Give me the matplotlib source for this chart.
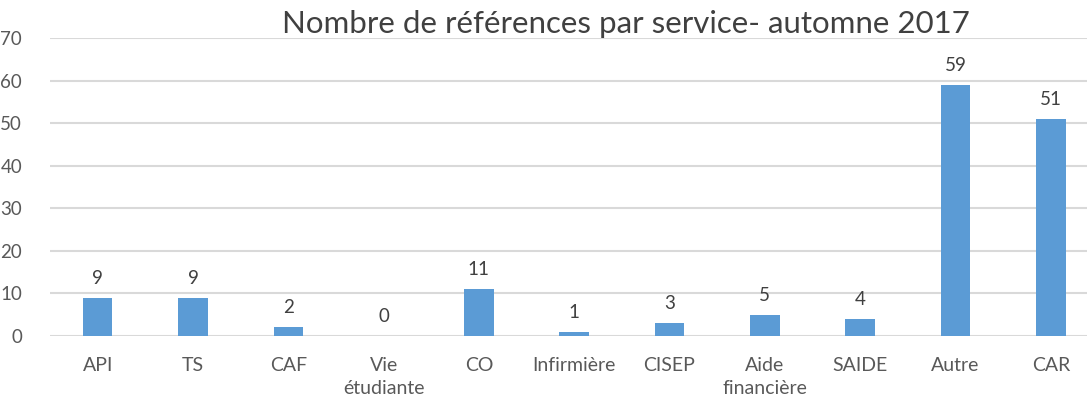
import matplotlib.pyplot as plt

services = ['API', 'TS', 'CAF', 'Vie\nétudiante', 'CO', 'Infirmière', 'CISEP',
            'Aide\nfinancière', 'SAIDE', 'Autre', 'CAR']
counts = [9, 9, 2, 0, 11, 1, 3, 5, 4, 59, 51]
yticks = [0, 10, 20, 30, 40, 50, 60, 70]

plt.rcParams['font.family'] = ['Lato', 'DejaVu Sans']

fig = plt.figure(figsize=(10.87, 4.04), dpi=100)
ax = fig.add_axes([50 / 1087, 1 - 336 / 404, 1 - 50 / 1087, (336 - 38) / 404])

x = range(len(services))
ax.bar(x, counts, width=0.31, color='#5b9bd5', zorder=3)
for xi, v in zip(x, counts):
    ax.text(xi, v + 2.6, str(v), ha='center', va='bottom', fontsize=13.5, color='#404040')

ax.set_xlim(-0.5, 10.38)
ax.set_ylim(0, 70)
ax.set_yticks(yticks)
ax.set_xticks(list(x))
ax.set_xticklabels(services, fontsize=14, color='#595959', linespacing=1.45)
ax.tick_params(axis='y', labelsize=13.5, labelcolor='#595959', length=0, pad=20)
ax.tick_params(axis='x', length=0, pad=15)
ax.grid(axis='y', color='#d9d9d9', linewidth=1.5, zorder=0)
for s in ax.spines.values():
    s.set_visible(False)

fig.text(0.576, 0.94, 'Nombre de références par service- automne 2017',
         ha='center', va='center', fontsize=22.5, color='#404040')

fig.savefig('out.png', dpi=100)
